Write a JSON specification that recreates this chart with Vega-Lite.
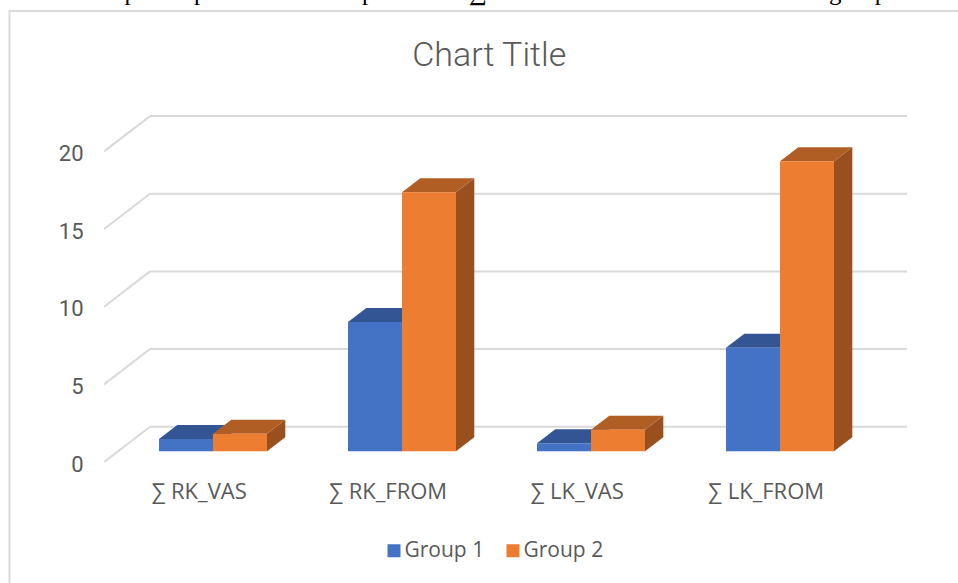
{
"$schema":"https://vega.github.io/schema/vega-lite/v6.json",
"width":955.5,"height":579,
"autosize":{"type":"none"},
"padding":{"left":9.5,"top":11,"right":0,"bottom":0},
"background":"white",
"config":{"view":{"stroke":"#d9d9d9","strokeWidth":2},"font":"Open Sans"},
"title":{"text":"Chart Title","font":"Roboto","fontSize":34,"fontWeight":"300","color":"#595959","anchor":"middle","dy":97,"dx":2},
"datasets":{
"bars":[
{"category":"∑ RK_VAS","group":"Group 1","value":0.79},
{"category":"∑ RK_VAS","group":"Group 2","value":1.13},
{"category":"∑ RK_FROM","group":"Group 1","value":8.33},
{"category":"∑ RK_FROM","group":"Group 2","value":16.68},
{"category":"∑ LK_VAS","group":"Group 1","value":0.52},
{"category":"∑ LK_VAS","group":"Group 2","value":1.39},
{"category":"∑ LK_FROM","group":"Group 1","value":6.67},
{"category":"∑ LK_FROM","group":"Group 2","value":18.67}
],
"grid":[{"tick":0},{"tick":5},{"tick":10},{"tick":15},{"tick":20}]
},
"layer":[
{"data":{"name":"grid"},
 "transform":[
  {"calculate":"datum.tick+1.584","as":"yb"},
  {"calculate":"-0.257","as":"xb"},
  {"calculate":"3.748","as":"xe"}],
 "mark":{"type":"rule","color":"#d9d9d9","strokeWidth":2},
 "encoding":{
  "x":{"field":"xb","type":"quantitative","scale":{"domain":[-1.0005,4.055],"nice":false,"zero":false},
   "axis":{"values":[0,1,2,3],"labelExpr":"['∑ RK_VAS','∑ RK_FROM','∑ LK_VAS','∑ LK_FROM'][datum.value]","orient":"bottom","offset":-128,"title":null,"grid":false,"domain":false,"ticks":false,"labelPadding":29,"labelFontSize":22,"labelColor":"#595959","labelFont":"Open Sans","labelBaseline":"middle"}},
  "x2":{"field":"xe"},
  "y":{"field":"yb","type":"quantitative","scale":{"domain":[-8.93,28.35],"nice":false,"zero":false},
   "axis":{"values":[0,5,10,15,20],"orient":"left","offset":-94.5,"title":null,"grid":false,"domain":false,"ticks":false,"labelPadding":21,"labelOffset":13,"labelFontSize":22,"labelColor":"#595959","labelFont":"Roboto"}},
  "y2":{"field":"yb"}
 }},
{"data":{"name":"grid"},
 "transform":[
  {"calculate":"datum.tick+1.584","as":"yb"},
  {"calculate":"datum.tick-0.689","as":"yf"},
  {"calculate":"-0.257","as":"xb"},
  {"calculate":"-0.5","as":"xf"}],
 "mark":{"type":"rule","color":"#d9d9d9","strokeWidth":2},
 "encoding":{
  "x":{"field":"xf","type":"quantitative"},
  "x2":{"field":"xb"},
  "y":{"field":"yf","type":"quantitative"},
  "y2":{"field":"yb"}
 }},
{"data":{"name":"bars"},
 "transform":[
  {"calculate":"indexof(['∑ RK_VAS','∑ RK_FROM','∑ LK_VAS','∑ LK_FROM'],datum.category)","as":"i"},
  {"calculate":"datum.i+(datum.group==='Group 1'?0.0762:0.3619)","as":"x1"},
  {"calculate":"[datum.x1,datum.x1+0.0968]","as":"vx"},
  {"calculate":"[0,0.9]","as":"lo"},
  {"calculate":"[datum.value,datum.value+0.9]","as":"hi"},
  {"flatten":["vx","lo","hi"]}],
 "mark":{"type":"area","interpolate":"linear"},
 "encoding":{
  "x":{"field":"vx","type":"quantitative"},
  "y":{"field":"lo","type":"quantitative","stack":null},
  "y2":{"field":"hi"},
  "detail":{"field":"category"},
  "color":{"field":"group","type":"nominal","legend":null,"scale":{"domain":["Group 1","Group 2"],"range":["#2B4A80","#99501E"]}}
 }},
{"data":{"name":"bars"},
 "transform":[
  {"calculate":"indexof(['∑ RK_VAS','∑ RK_FROM','∑ LK_VAS','∑ LK_FROM'],datum.category)","as":"i"},
  {"calculate":"datum.i+(datum.group==='Group 1'?-0.2095:0.0762)","as":"x0"},
  {"calculate":"datum.x0+0.2857","as":"x1"},
  {"calculate":"[datum.x0,datum.x0+0.0968,datum.x1,datum.x1+0.0968]","as":"vx"},
  {"calculate":"[datum.value,datum.value,datum.value,datum.value+0.9]","as":"lo"},
  {"calculate":"[datum.value,datum.value+0.9,datum.value+0.9,datum.value+0.9]","as":"hi"},
  {"flatten":["vx","lo","hi"]}],
 "mark":{"type":"area","interpolate":"linear"},
 "encoding":{
  "x":{"field":"vx","type":"quantitative"},
  "y":{"field":"lo","type":"quantitative","stack":null},
  "y2":{"field":"hi"},
  "detail":{"field":"category"},
  "color":{"field":"group","type":"nominal","legend":null,"scale":{"domain":["Group 1","Group 2"],"range":["#335593","#B15E25"]}}
 }},
{"data":{"name":"bars"},
 "transform":[
  {"calculate":"indexof(['∑ RK_VAS','∑ RK_FROM','∑ LK_VAS','∑ LK_FROM'],datum.category)","as":"i"},
  {"calculate":"datum.i+(datum.group==='Group 1'?-0.2095:0.0762)","as":"x0"},
  {"calculate":"datum.x0+0.2857","as":"x1"},
  {"calculate":"0","as":"base"}],
 "mark":{"type":"rect"},
 "encoding":{
  "x":{"field":"x0","type":"quantitative"},
  "x2":{"field":"x1"},
  "y":{"field":"value","type":"quantitative"},
  "y2":{"field":"base"},
  "color":{"field":"group","type":"nominal","scale":{"domain":["Group 1","Group 2"],"range":["#4472C4","#ED7D31"]},
   "legend":{"orient":"none","legendX":374,"legendY":529,"direction":"horizontal","columns":2,"title":null,"symbolType":"square","symbolSize":169,"labelFontSize":21,"labelColor":"#595959","labelFont":"Open Sans","labelOffset":0,"symbolStrokeWidth":0,"symbolOpacity":1,"columnPadding":18}}
 }},
{"data":{"values":[{"caption":"Graph 1 represents the comparison of ∑","cx":-0.59},{"caption":"group","cx":3.335}]},
 "transform":[{"calculate":"29.05","as":"cy"}],
 "mark":{"type":"text","clip":false,"font":"Liberation Serif","fontSize":25,"align":"left","baseline":"alphabetic","color":"#000"},
 "encoding":{
  "x":{"field":"cx","type":"quantitative"},
  "y":{"field":"cy","type":"quantitative"},
  "text":{"field":"caption"}
 }}
],
"resolve":{"scale":{"color":"independent"}}
}
